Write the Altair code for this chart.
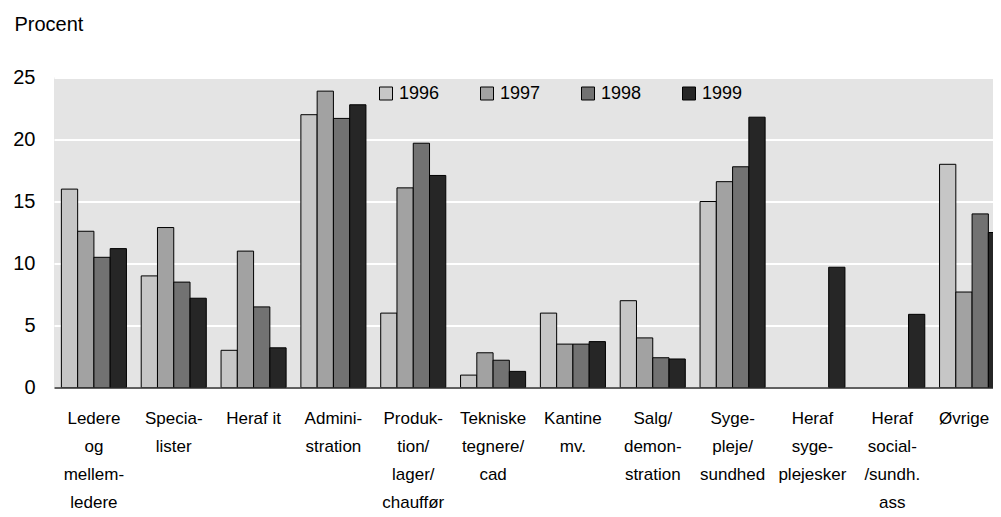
import altair as alt
import pandas as pd

categories = [
    "Ledere|og|mellem-|ledere",
    "Specia-|lister",
    "Heraf it",
    "Admini-|stration",
    "Produk-|tion/|lager/|chauffør",
    "Tekniske|tegnere/|cad",
    "Kantine|mv.",
    "Salg/|demon-|stration",
    "Syge-|pleje/|sundhed",
    "Heraf|syge-|plejesker",
    "Heraf|social-|/sundh.|ass",
    "Øvrige",
]
years = ["1996", "1997", "1998", "1999"]
v1996 = [16.0, 9.0, 3.0, 22.0, 6.0, 1.0, 6.0, 7.0, 15.0, None, None, 18.0]
v1997 = [12.6, 12.9, 11.0, 23.9, 16.1, 2.8, 3.5, 4.0, 16.6, None, None, 7.7]
v1998 = [10.5, 8.5, 6.5, 21.7, 19.7, 2.2, 3.5, 2.4, 17.8, None, None, 14.0]
v1999 = [11.2, 7.2, 3.2, 22.8, 17.1, 1.3, 3.7, 2.3, 21.8, 9.7, 5.9, 12.5]
colors = ["#c6c6c6", "#a2a2a2", "#727272", "#262626"]

rows = []
for yr, vals in zip(years, [v1996, v1997, v1998, v1999]):
    for c, v in zip(categories, vals):
        if v is not None:
            rows.append({"kategori": c, "år": yr, "procent": v})
df = pd.DataFrame(rows)

font = "Liberation Sans"

chart = alt.Chart(df).mark_bar(stroke="black", strokeWidth=1, clip=True).encode(
    x=alt.X("kategori:N", sort=categories, title=None,
            scale=alt.Scale(paddingInner=0.185, paddingOuter=0.0925, range=[0, 958]),
            axis=alt.Axis(labelAngle=0, ticks=False, domain=True,
                          domainColor="#606060", domainWidth=2,
                          labelExpr="split(datum.label, '|')",
                          labelLineHeight=28, labelFontSize=17,
                          labelPadding=23, labelFont=font, labelColor="black",
                          labelBaseline="top", labelLimit=0,
                          labelOffset={"condition": {"test": "datum.value == 'Øvrige'", "value": -8},
                                       "value": 0})),
    xOffset=alt.XOffset("år:N", sort=years),
    y=alt.Y("procent:Q",
            scale=alt.Scale(domain=[0, 25], nice=False),
            axis=alt.Axis(values=[0, 5, 10, 15, 20, 25], ticks=False, domain=False,
                          grid=True, gridColor="white", gridWidth=2,
                          labelFontSize=20, labelFont=font, labelColor="black",
                          labelPadding=19,
                          title="Procent", titleAngle=0, titleX=-40, titleY=-53,
                          titleAlign="left", titleBaseline="middle",
                          titleFont=font, titleFontSize=20, titleFontWeight="normal",
                          titleColor="black")),
    color=alt.Color("år:N", sort=years,
                    scale=alt.Scale(domain=years, range=colors),
                    legend=alt.Legend(title=None, orient="none", direction="horizontal",
                                      legendX=323, legendY=7,
                                      symbolType="square", symbolSize=169,
                                      symbolStrokeColor="black", symbolStrokeWidth=1,
                                      labelFont=font, labelFontSize=18,
                                      labelColor="black", labelOffset=4,
                                      columnPadding=38)),
).properties(
    width=939, height=310,
    autosize=alt.AutoSizeParams(type="none"),
    padding={"left": 46, "top": 69.5, "right": 0, "bottom": 128},
).configure_view(
    fill="#e4e4e4", stroke=None
)

chart.save("out.html", embed_options={"renderer": "svg", "actions": False})
